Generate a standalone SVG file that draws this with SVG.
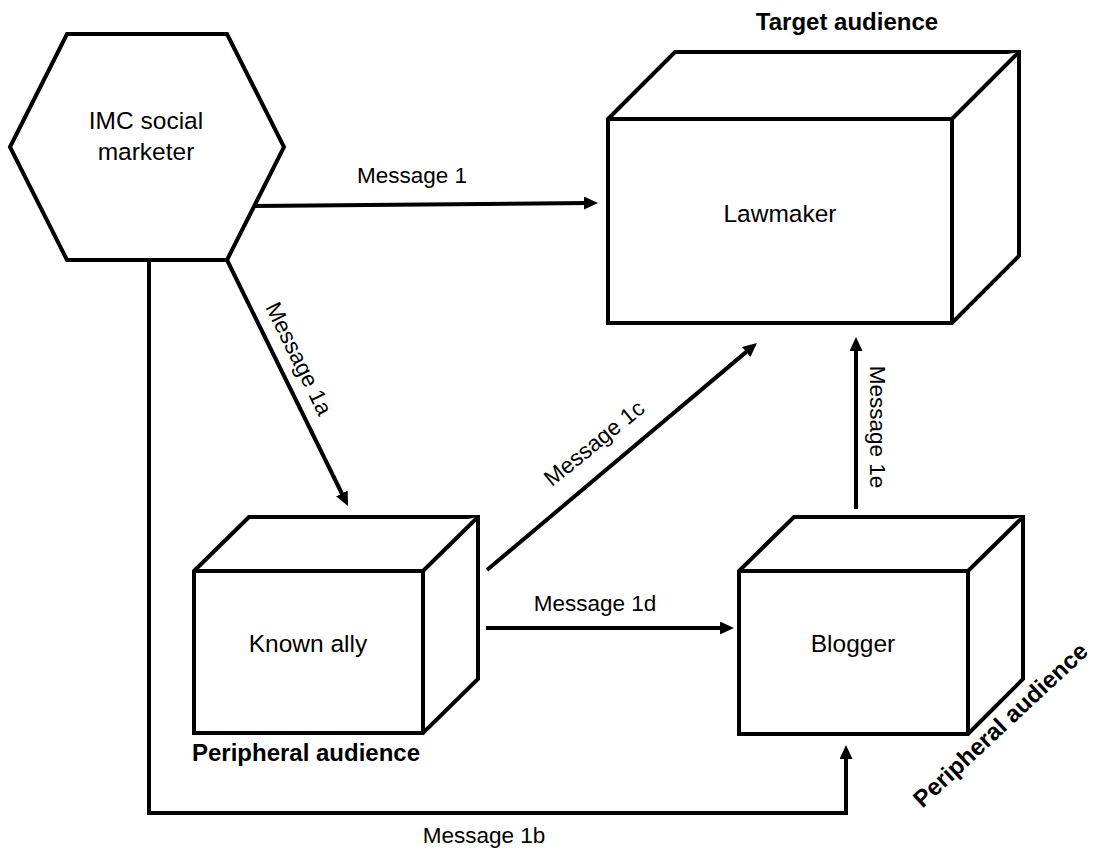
<svg xmlns="http://www.w3.org/2000/svg" width="1101" height="851" viewBox="0 0 1101 851">
<style>
.shape{fill:#fff;stroke:#000;stroke-width:4;stroke-linejoin:miter}
.edge{fill:none;stroke:#000;stroke-width:4}
.lbl{font-family:"Liberation Sans",Arial,sans-serif;font-size:22.5px;fill:#000}
.node{font-family:"Liberation Sans",Arial,sans-serif;font-size:24.5px;fill:#000;text-anchor:middle}
.bold{font-family:"Liberation Sans",Arial,sans-serif;font-weight:bold;font-size:24px;fill:#000;text-anchor:middle}
</style>
<defs>
<marker id="ah" markerUnits="userSpaceOnUse" markerWidth="16" markerHeight="14" refX="4" refY="6.5" orient="auto">
<path d="M0,0 L14,6.5 L0,13 z" fill="#000"/>
</marker>
</defs>
<rect width="1101" height="851" fill="#fff"/>
<g id="marketer">
<polygon class="shape" points="10,147 67,34 227,34 284,147 227,260 67,260"/>
<text class="node" x="146" y="129">IMC social</text>
<text class="node" x="146" y="160">marketer</text>
</g>
<g id="lawmaker">
<polygon class="shape" points="608,119 675,52 1019,52 1019,256 952,323 608,323"/>
<polyline class="shape" points="608,119 952,119 1019,52" fill="none"/>
<line class="shape" x1="952" y1="119" x2="952" y2="323"/>
<text class="node" x="780" y="222">Lawmaker</text>
<text class="bold" x="847" y="30">Target audience</text>
</g>
<g id="ally">
<polygon class="shape" points="194,571 249,517 478,517 478,679 423,733 194,733"/>
<polyline class="shape" points="194,571 423,571 478,517" fill="none"/>
<line class="shape" x1="423" y1="571" x2="423" y2="733"/>
<text class="node" x="308" y="652">Known ally</text>
<text class="bold" x="306" y="761">Peripheral audience</text>
</g>
<g id="blogger">
<polygon class="shape" points="739,571 794,517 1023,517 1023,679 968,734 739,734"/>
<polyline class="shape" points="739,571 968,571 1023,517" fill="none"/>
<line class="shape" x1="968" y1="571" x2="968" y2="734"/>
<text class="node" x="853" y="652">Blogger</text>
<text class="bold" transform="translate(1006,731) rotate(-43)">Peripheral audience</text>
</g>
<g id="connectors">
<line class="edge" x1="254" y1="206" x2="588" y2="203" marker-end="url(#ah)"/>
<text class="lbl" x="412" y="183" text-anchor="middle">Message 1</text>
<line class="edge" x1="227" y1="260" x2="343.6" y2="497" marker-end="url(#ah)"/>
<text class="lbl" text-anchor="middle" transform="translate(292,362) rotate(63.8)">Message 1a</text>
<path class="edge" d="M149,260 V813 H846 V755" marker-end="url(#ah)"/>
<text class="lbl" x="484" y="843" text-anchor="middle">Message 1b</text>
<line class="edge" x1="487" y1="570" x2="749.3" y2="349.4" marker-end="url(#ah)"/>
<text class="lbl" text-anchor="middle" transform="translate(599,449) rotate(-39)">Message 1c</text>
<line class="edge" x1="486" y1="628" x2="724" y2="628" marker-end="url(#ah)"/>
<text class="lbl" x="595" y="611" text-anchor="middle">Message 1d</text>
<line class="edge" x1="856" y1="509" x2="856" y2="347" marker-end="url(#ah)"/>
<text class="lbl" text-anchor="middle" transform="translate(870,427) rotate(90)">Message 1e</text>
</g>
</svg>
